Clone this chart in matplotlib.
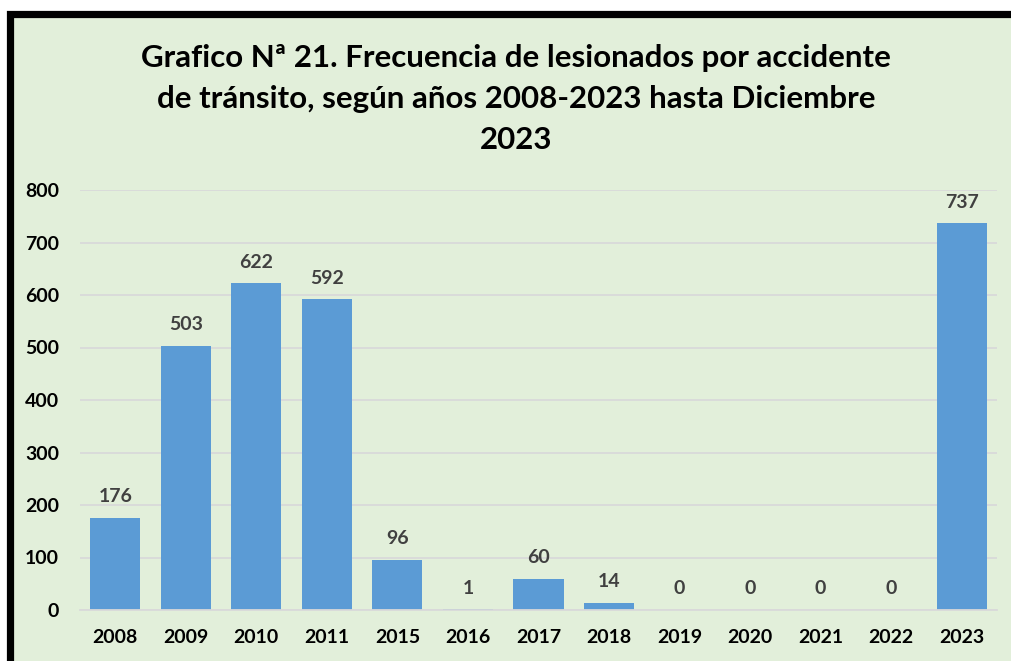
import matplotlib
matplotlib.use("Agg")
import matplotlib.pyplot as plt
from matplotlib.patches import Rectangle

years = ["2008", "2009", "2010", "2011", "2015", "2016", "2017", "2018",
         "2019", "2020", "2021", "2022", "2023"]
values = [176, 503, 622, 592, 96, 1, 60, 14, 0, 0, 0, 0, 737]
yticks = [0, 100, 200, 300, 400, 500, 600, 700, 800]
title = ("Grafico Nª 21. Frecuencia de lesionados por accidente\n"
         "de tránsito, según años 2008-2023 hasta Diciembre\n2023")

W, H = 1011, 661
fig = plt.figure(figsize=(W / 100, H / 100), dpi=100)
fig.patch.set_facecolor("white")

bg = "#E2EFDA"
# background + border
fig.patches.append(Rectangle((9.5 / W, -0.1), 1.2, (H - 13.5) / H + 0.1,
                             transform=fig.transFigure, facecolor=bg,
                             edgecolor="black", linewidth=5.2, zorder=-5))

fam = ["Lato", "DejaVu Sans"]
fs = 14
ax = fig.add_axes([80 / W, (H - 610) / H, (997 - 80) / W, (610 - 190) / H])
ax.set_zorder(2)
ax.set_facecolor("none")
x = list(range(len(years)))
ax.bar(x, values, width=0.71, color="#5B9BD5", zorder=2)
ax.set_xlim(-0.5, len(years) - 0.5)
ax.set_ylim(0, 800)
ax.set_yticks(yticks)
ax.grid(axis="y", color="#D9D9D9", linewidth=1.3, zorder=0)
ax.set_axisbelow(True)
for s in ["top", "right", "left"]:
    ax.spines[s].set_visible(False)
ax.spines["bottom"].set_color("#D9D9D9")
ax.spines["bottom"].set_linewidth(1.3)
ax.tick_params(length=0)
ax.set_xticks(x)
ax.set_xticklabels(years, fontweight="bold", fontsize=fs, family=fam)
ax.tick_params(axis="x", pad=14)
ax.tick_params(axis="y", pad=15)
for lab in ax.get_yticklabels():
    lab.set_fontweight("bold")
    lab.set_fontsize(fs)
    lab.set_family(fam)

for xi, v in zip(x, values):
    ax.annotate(str(v), (xi, v), xytext=(0, 9), textcoords="offset points",
                ha="center", va="bottom", fontsize=fs, fontweight="bold",
                color="#404040", family=fam)

fig.text(516 / W, (H - 99) / H, title, ha="center", va="center",
         fontsize=22.5, fontweight="bold", family=fam, linespacing=1.55,
         zorder=3)

fig.savefig("out.png", dpi=100, facecolor=fig.get_facecolor())
